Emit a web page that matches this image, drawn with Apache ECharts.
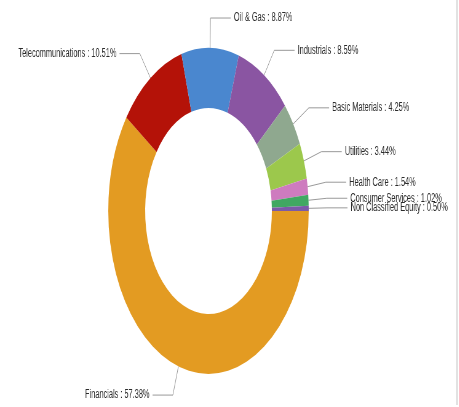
<!DOCTYPE html>
<html>
<head>
<meta charset="utf-8">
<script src="https://cdn.jsdelivr.net/npm/echarts@6/dist/echarts.min.js"></script>
<style>
  html, body { margin: 0; padding: 0; background: #fff; }
  #frame {
    position: relative;
    width: 459px;
    height: 407px;
    overflow: hidden;
  }
  #frame:after {
    content: '';
    position: absolute;
    left: 456px; top: 0;
    width: 2px; height: 405px;
    background: #e2e2e2;
  }
  /* the source picture is squeezed sideways, so the chart is drawn wide and scaled down */
  #sectors {
    width: 746px;
    height: 407px;
    transform: scaleX(0.615);
    transform-origin: left top;
  }
</style>
</head>
<body>
<div id="frame"><div id="sectors"></div></div>
<script>
  var sectorNames = ['Financials', 'Telecommunications', 'Oil & Gas', 'Industrials',
    'Basic Materials', 'Utilities', 'Health Care', 'Consumer Services', 'Non Classified Equity'];
  var sectorWeights = [57.38, 10.51, 8.87, 8.59, 4.25, 3.44, 1.54, 1.02, 0.50];
  var sectorColors = ['#e39b22', '#b41208', '#4a87cf', '#8a55a2', '#8fa88f',
    '#9cc84c', '#ce7bbf', '#40a862', '#7b5aa8'];

  var chart = echarts.init(document.getElementById('sectors'));

  var pieData = [];
  for (var i = 0; i < sectorNames.length; i++) {
    pieData.push({
      name: sectorNames[i],
      value: sectorWeights[i],
      itemStyle: { color: sectorColors[i] }
    });
  }

  chart.setOption({
    animation: false,
    series: [{
      type: 'pie',
      center: [339, 211],
      radius: [103, 163],
      startAngle: 0,
      clockwise: true,
      avoidLabelOverlap: false,
      labelLayout: { hideOverlap: false },
      itemStyle: { borderWidth: 0 },
      emphasis: { disabled: true },
      label: {
        show: true,
        color: '#2a2a2a',
        fontFamily: 'Liberation Sans, Arial, sans-serif',
        fontSize: 12,
        formatter: function (p) {
          return p.name + ' : ' + p.value.toFixed(2) + '%';
        }
      },
      labelLine: {
        show: true,
        length: 30,
        length2: 33,
        smooth: false,
        lineStyle: { color: '#999', width: 1 }
      },
      data: pieData
    }]
  });
</script>
</body>
</html>
